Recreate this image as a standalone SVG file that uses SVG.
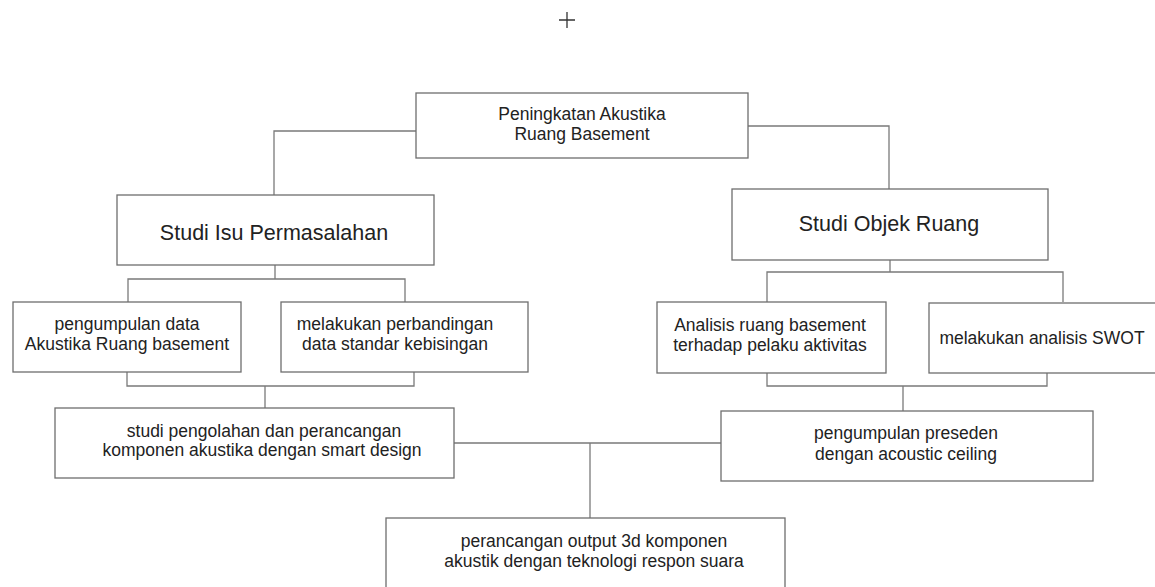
<svg xmlns="http://www.w3.org/2000/svg" width="1155" height="587" viewBox="0 0 1155 587">
<style>
.box{fill:#fff;stroke:#6e6e6e;stroke-width:1.3}
.con{fill:none;stroke:#7a7a7a;stroke-width:1.3}
.t{font-family:"Liberation Sans",Arial,sans-serif;font-size:17.5px;fill:#222;text-anchor:middle}
.tb{font-family:"Liberation Sans",Arial,sans-serif;font-size:21.5px;fill:#222;text-anchor:middle}
</style>
<rect width="1155" height="587" fill="#fff"/>
<path d="M559 20H575M567 12V28" stroke="#333" stroke-width="1.3" fill="none"/>
<g id="connectors">
<path class="con" d="M416 131H274V195"/>
<path class="con" d="M748 126H889V189"/>
<path class="con" d="M275 265V279M128 302V279H405V302"/>
<path class="con" d="M890 260V272M767 302V272H1063V302"/>
<path class="con" d="M127 372V386H414V372M265 386V408"/>
<path class="con" d="M767 373V386H1047V373M903 386V411"/>
<path class="con" d="M454 443H721M590 443V518"/>
</g>
<g id="n-top"><rect class="box" x="416" y="93" width="332" height="65"/><text class="t" x="582" y="120">Peningkatan Akustika</text><text class="t" x="582" y="140">Ruang Basement</text></g>
<g id="n-isu"><rect class="box" x="117" y="195" width="317" height="70"/><text class="tb" x="274" y="240">Studi Isu Permasalahan</text></g>
<g id="n-objek"><rect class="box" x="732" y="189" width="316" height="71"/><text class="tb" x="889" y="231">Studi Objek Ruang</text></g>
<g id="n-data"><rect class="box" x="13" y="302" width="228" height="70"/><text class="t" x="127" y="330">pengumpulan data</text><text class="t" x="127" y="350">Akustika Ruang basement</text></g>
<g id="n-banding"><rect class="box" x="281" y="302" width="247" height="70"/><text class="t" x="395" y="330">melakukan perbandingan</text><text class="t" x="395" y="350">data standar kebisingan</text></g>
<g id="n-analisis"><rect class="box" x="657" y="302" width="229" height="71"/><text class="t" x="770" y="331">Analisis ruang basement</text><text class="t" x="770" y="351">terhadap pelaku aktivitas</text></g>
<g id="n-swot"><rect class="box" x="929" y="303" width="240" height="70"/><text class="t" x="1042" y="344">melakukan analisis SWOT</text></g>
<g id="n-studi"><rect class="box" x="55" y="408" width="399" height="70"/><text class="t" x="264" y="437">studi pengolahan dan perancangan</text><text class="t" x="262" y="456">komponen akustika dengan smart design</text></g>
<g id="n-preseden"><rect class="box" x="721" y="411" width="372" height="70"/><text class="t" x="906" y="439">pengumpulan preseden</text><text class="t" x="906" y="460">dengan acoustic ceiling</text></g>
<g id="n-output"><rect class="box" x="386" y="518" width="399" height="75"/><text class="t" x="594" y="547">perancangan output 3d komponen</text><text class="t" x="594" y="567">akustik dengan teknologi respon suara</text></g>
</svg>
